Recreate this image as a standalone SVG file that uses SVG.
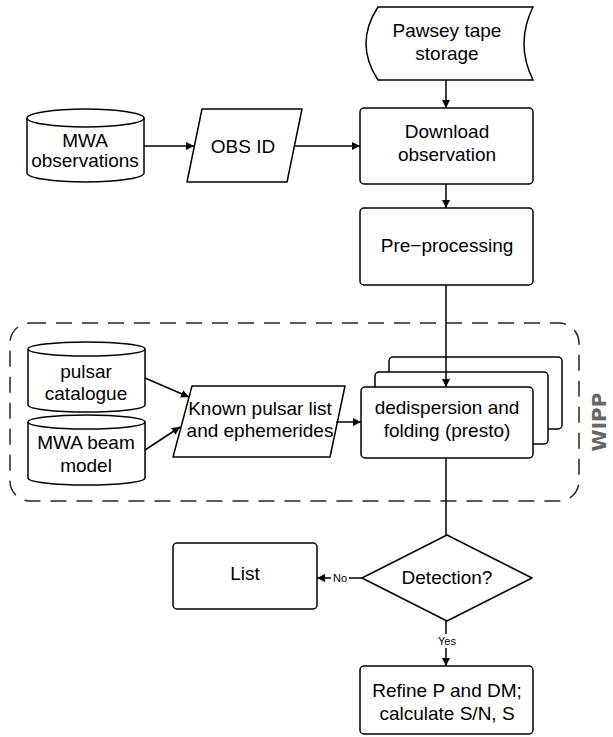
<svg xmlns="http://www.w3.org/2000/svg" width="613" height="737" viewBox="0 0 613 737">
<defs>
<style>
.s{fill:#fff;stroke:#000;stroke-width:1.5}
.t{font-family:"Liberation Sans",Arial,sans-serif;font-size:19px;fill:#000;text-anchor:middle}
.sm{font-family:"Liberation Sans",Arial,sans-serif;font-size:11px;fill:#000;text-anchor:middle}
.c{fill:none;stroke:#000;stroke-width:1.5}
</style>
<marker id="a" viewBox="0 0 10 10" refX="10" refY="5" markerWidth="8" markerHeight="8" markerUnits="userSpaceOnUse" orient="auto"><path d="M0,0 L10,5 L0,10 Z" fill="#000"/></marker>
</defs>
<rect width="613" height="737" fill="#fff"/>
<g id="wipp">
<rect x="10" y="323" width="569" height="178" rx="20" fill="none" stroke="#2b2222" stroke-width="1.5" stroke-dasharray="16,10"/>
<text x="0" y="0" transform="translate(606,422) rotate(-90)" font-family="'DejaVu Sans',sans-serif" font-weight="bold" font-size="20" fill="#666" text-anchor="middle">WIPP</text>
</g>
<g id="pawsey">
<path class="s" d="M378,7 L533,7 Q515,43.5 533,80 L378,80 Q354,43.5 378,7 Z"/>
<text class="t" x="447" y="37">Pawsey tape</text>
<text class="t" x="447" y="60">storage</text>
</g>
<g id="download">
<rect class="s" x="360" y="108" width="173" height="76" rx="4"/>
<text class="t" x="447" y="138">Download</text>
<text class="t" x="447" y="161">observation</text>
</g>
<g id="preprocessing">
<rect class="s" x="360" y="208" width="173" height="77" rx="4"/>
<text class="t" x="447" y="252">Pre−processing</text>
</g>
<g id="mwaobs">
<path class="s" d="M27,118 A58.5,9 0 0 1 144,118 L144,173 A58.5,9 0 0 1 27,173 Z"/>
<path class="c" d="M27,118 A58.5,9 0 0 0 144,118"/>
<text class="t" x="85" y="147">MWA</text>
<text class="t" x="85" y="167">observations</text>
</g>
<g id="obsid">
<path class="s" d="M202,109 L302,109 L287,182 L187,182 Z" stroke-linejoin="round"/>
<text class="t" x="243" y="153">OBS ID</text>
</g>
<g id="pulsarcat">
<path class="s" d="M28,349 A58.5,7 0 0 1 145,349 L145,405 A58.5,7 0 0 1 28,405 Z"/>
<path class="c" d="M28,349 A58.5,7 0 0 0 145,349"/>
<text class="t" x="86" y="378">pulsar</text>
<text class="t" x="86" y="400">catalogue</text>
</g>
<g id="beammodel">
<path class="s" d="M28,422 A58.5,7 0 0 1 145,422 L145,478 A58.5,7 0 0 1 28,478 Z"/>
<path class="c" d="M28,422 A58.5,7 0 0 0 145,422"/>
<text class="t" x="86" y="449">MWA beam</text>
<text class="t" x="86" y="472">model</text>
</g>
<g id="knownlist">
<path class="s" d="M192,386 L345,386 L330,457 L173,457 Z" stroke-linejoin="round"/>
<text class="t" x="260" y="415">Known pulsar list</text>
<text class="t" x="260" y="437">and ephemerides</text>
</g>
<g id="dedispersion">
<rect class="s" x="389" y="357" width="173" height="72" rx="4"/>
<rect class="s" x="375" y="372" width="173" height="72" rx="4"/>
<rect class="s" x="361" y="387" width="172" height="71" rx="4"/>
<text class="t" x="447" y="414">dedispersion and</text>
<text class="t" x="447" y="437">folding (presto)</text>
</g>
<g id="detection">
<path class="s" d="M447,535 L532,578 L447,621 L362,578 Z" stroke-linejoin="round"/>
<text class="t" x="447" y="584">Detection?</text>
</g>
<g id="list">
<rect class="s" x="173" y="543" width="144" height="66" rx="4"/>
<text class="t" x="245" y="580">List</text>
</g>
<g id="refine">
<rect class="s" x="360" y="666" width="173" height="68" rx="4"/>
<text class="t" x="447" y="697">Refine P and DM;</text>
<text class="t" x="447" y="720">calculate S/N, S</text>
</g>
<g id="connectors">
<line class="c" x1="446" y1="80" x2="446" y2="108" marker-end="url(#a)"/>
<line class="c" x1="144" y1="146" x2="194" y2="146" marker-end="url(#a)"/>
<line class="c" x1="295" y1="146" x2="360" y2="146" marker-end="url(#a)"/>
<line class="c" x1="446" y1="184" x2="446" y2="208" marker-end="url(#a)"/>
<line class="c" x1="446" y1="285" x2="446" y2="387" marker-end="url(#a)"/>
<line class="c" x1="145" y1="378" x2="189" y2="397" marker-end="url(#a)"/>
<line class="c" x1="145" y1="450" x2="180" y2="427" marker-end="url(#a)"/>
<line class="c" x1="336" y1="422" x2="361" y2="422" marker-end="url(#a)"/>
<line class="c" x1="446" y1="458" x2="446" y2="535"/>
<line class="c" x1="362" y1="578" x2="349" y2="578"/>
<line class="c" x1="331" y1="578" x2="317" y2="578" marker-end="url(#a)"/>
<text class="sm" x="340" y="582">No</text>
<line class="c" x1="446" y1="621" x2="446" y2="634"/>
<line class="c" x1="446" y1="648" x2="446" y2="666" marker-end="url(#a)"/>
<text class="sm" x="447" y="645">Yes</text>
</g>
</svg>
